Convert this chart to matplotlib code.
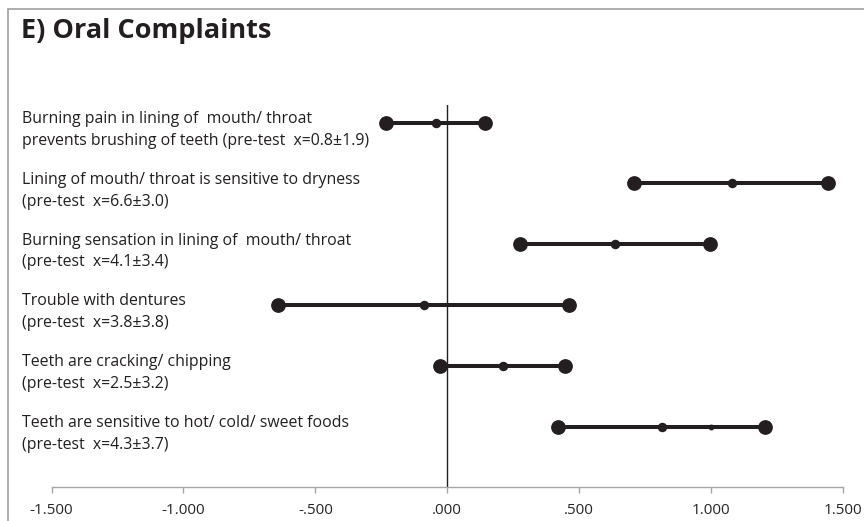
import matplotlib
matplotlib.use('Agg')
import matplotlib.pyplot as plt
import matplotlib.transforms as mtransforms
from matplotlib.patches import Rectangle

plt.rcParams['font.family'] = ['Open Sans', 'DejaVu Sans']

# data (top row first)
labels_line1 = [
    'Burning pain in lining of  mouth/ throat',
    'Lining of mouth/ throat is sensitive to dryness',
    'Burning sensation in lining of  mouth/ throat',
    'Trouble with dentures',
    'Teeth are cracking/ chipping',
    'Teeth are sensitive to hot/ cold/ sweet foods',
]
labels_line2 = [
    'prevents brushing of teeth (pre-test  x=0.8\u00b11.9)',
    '(pre-test  x=6.6\u00b13.0)',
    '(pre-test  x=4.1\u00b13.4)',
    '(pre-test  x=3.8\u00b13.8)',
    '(pre-test  x=2.5\u00b13.2)',
    '(pre-test  x=4.3\u00b13.7)',
]
low = [-0.232, 0.710, 0.276, -0.640, -0.027, 0.419]
mid = [-0.042, 1.079, 0.636, -0.088, 0.210, 0.813]
high = [0.143, 1.445, 0.997, 0.463, 0.447, 1.205]
extra = [None, None, None, None, None, 0.999]

xticks = [-1.5, -1.0, -0.5, 0.0, 0.5, 1.0, 1.5]
xticklabels = ['-1.500', '-1.000', '-.500', '.000', '.500', '1.000', '1.500']

ink = '#231f20'

fig = plt.figure(figsize=(8.64, 5.21), dpi=100)
ax = fig.add_axes([0.0598, 0.0647, 0.9155, 0.7338])

n = len(low)
ypos = list(range(n, 0, -1))

ax.axvline(0, color=ink, lw=1.0, zorder=1)

for i in range(n):
    y = ypos[i]
    ax.plot([low[i], high[i]], [y, y], color=ink, lw=2.9, solid_capstyle='butt', zorder=2)
    ax.plot([low[i], high[i]], [y, y], 'o', color=ink, ms=9.6, zorder=3)
    ax.plot([mid[i]], [y], 'o', color=ink, ms=5.8, zorder=3)
    if extra[i] is not None:
        ax.plot([extra[i]], [y], 'o', color=ink, ms=3.2, zorder=3)

ax.set_xlim(-1.5, 1.5)
ax.set_ylim(0, 6.29)
ax.set_xticks(xticks)
ax.set_xticklabels(xticklabels)
ax.set_yticks([])
for s in ['left', 'top', 'right']:
    ax.spines[s].set_visible(False)
ax.spines['bottom'].set_color('#a6a6a6')
ax.spines['bottom'].set_linewidth(1.0)
ax.tick_params(axis='x', direction='out', length=4, width=1, color='#a6a6a6',
               labelsize=11, labelcolor='#262626', pad=7)

# labels on the left
trans = mtransforms.blended_transform_factory(fig.transFigure, ax.transData)
for i in range(n):
    y = ypos[i]
    ax.text(0.0255, y + 0.06, labels_line1[i], transform=trans, ha='left', va='center',
            fontsize=11.4, color=ink)
    ax.text(0.0255, y - 0.3, labels_line2[i], transform=trans, ha='left', va='center',
            fontsize=11.4, color=ink)

fig.text(0.0243, 1 - 31 / 521, 'E) Oral Complaints', ha='left', va='center',
         fontsize=19.5, fontweight='bold', color=ink)

# outer border
fig.patches.append(Rectangle((8 / 864, -0.1), 1.2, 1.1 - 9 / 521, transform=fig.transFigure,
                             fill=False, edgecolor='#a0a0a0', lw=1.2))

fig.savefig('out.png', dpi=100)
